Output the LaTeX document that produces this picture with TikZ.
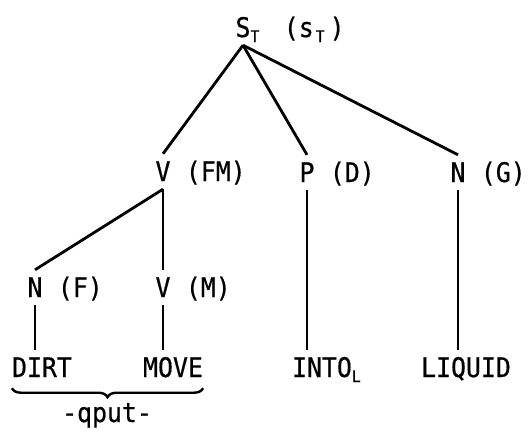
\documentclass[tikz,border=0pt]{standalone}
\usepackage{fontspec}
\setmonofont[FakeStretch=0.92, FakeBold=0.6]{DejaVu Sans Mono}
\usetikzlibrary{positioning,decorations.pathreplacing}
\newcommand{\subT}[1]{\raisebox{-5pt}{\fontsize{16}{16}\selectfont #1}}

\begin{document}
\begin{tikzpicture}[
  x=1pt, y=-1pt,
  every node/.style={font=\ttfamily\fontsize{27}{32}\selectfont, inner xsep=0pt, inner ysep=8pt, text height=19pt, text depth=0pt},
  branch/.style={line width=2.8pt},
]
  \fill[white] (0,0) rectangle (530,434);
  \useasboundingbox (0,0) rectangle (530,434);

  % categories
  \node[anchor=base] (root) at (243,37) {S\rlap{\subT{T}}};
  \node[base right=33pt of root] (rootcase) {(s\kern2pt\subT{T}\kern5pt)};
  \node[anchor=base] (vfm) at (163,181) {V};
  \node[base right=15pt of vfm] (vfmcase) {(FM)};
  \node[anchor=base] (pd) at (307,182) {P};
  \node[base right=15pt of pd] (pdcase) {(D)};
  \node[anchor=base] (ng) at (458,182) {N};
  \node[base right=15pt of ng] (ngcase) {(G)};
  \node[anchor=base] (nf) at (35,297) {N};
  \node[base right=15pt of nf] (nfcase) {(F)};
  \node[anchor=base] (vm) at (163,297) {V};
  \node[base right=15pt of vm] (vmcase) {(M)};

  % words
  \node[anchor=base] (dirt) at (42,377) {DIRT};
  \node[anchor=base] (move) at (173,377) {MOVE};
  \node[anchor=base] (into) at (322,377) {INTO\rlap{\subT{L}}};
  \node[anchor=base] (liquid) at (466,377) {LIQUID};
  \node[anchor=base] (qput) at (107,422) {-qput-};

  % branches
  \draw[branch] (root.south) -- (vfm.north);
  \draw[branch] (root.south) -- (pd.north);
  \draw[branch] (root.south) -- (ng.north);
  \draw[branch] (vfm.south) -- (nf.north);
  \draw[branch] (vfm.south) -- (vm.north);
  \draw[branch] (nf.south) -- (nf.south |- dirt.north);
  \draw[branch] (vm.south) -- (vm.south |- move.north);
  \draw[branch] (pd.south) -- (pd.south |- into.north);
  \draw[branch] (ng.south) -- (ng.south |- liquid.north);

  \draw[line width=2.4pt, decorate, decoration={brace, mirror, amplitude=9pt, raise=3pt}]
    (dirt.south west) -- (move.south east);
\end{tikzpicture}
\end{document}
